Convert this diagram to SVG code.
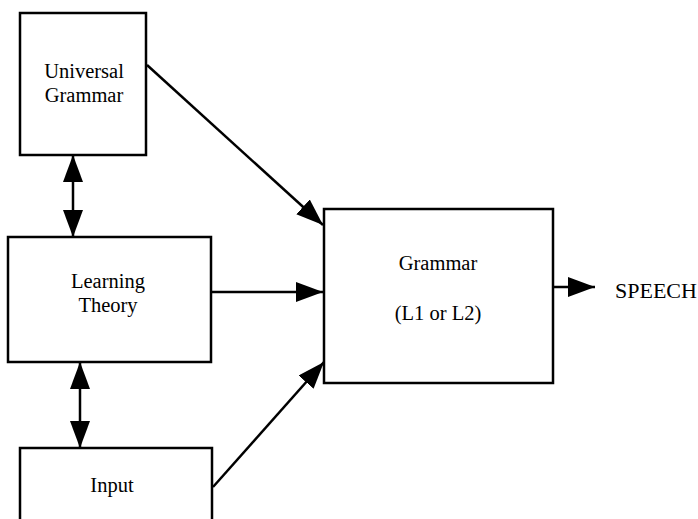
<svg xmlns="http://www.w3.org/2000/svg" width="698" height="519" viewBox="0 0 698 519">
<style>
.box{fill:#fff;stroke:#000;stroke-width:2.5}
.lbl{font-family:"Liberation Serif","Times New Roman",serif;font-size:20.5px;fill:#000;text-anchor:middle}
.con{stroke:#000;stroke-width:2.5;fill:none}
</style>
<defs>
<marker id="ah" markerUnits="userSpaceOnUse" markerWidth="28" markerHeight="22" refX="27" refY="10" orient="auto-start-reverse" viewBox="0 0 28 22">
<path d="M0,0 L27,10 L0,20 z" fill="#000"/>
</marker>
</defs>
<rect width="698" height="519" fill="#fff"/>
<g id="connectors">
<line class="con" x1="147" y1="65" x2="323" y2="225" marker-end="url(#ah)"/>
<line class="con" x1="211" y1="292" x2="323" y2="292" marker-end="url(#ah)"/>
<line class="con" x1="213" y1="487" x2="324" y2="362" marker-end="url(#ah)"/>
<line class="con" x1="553" y1="287" x2="595" y2="287" marker-end="url(#ah)"/>
<line class="con" x1="73" y1="155" x2="73" y2="237" marker-start="url(#ah)" marker-end="url(#ah)"/>
<line class="con" x1="80" y1="362" x2="80" y2="448" marker-start="url(#ah)" marker-end="url(#ah)"/>
</g>
<g id="universal-grammar">
<rect class="box" x="20" y="13" width="126" height="142"/>
<text class="lbl" x="84" y="78">Universal</text>
<text class="lbl" x="84" y="102">Grammar</text>
</g>
<g id="learning-theory">
<rect class="box" x="8" y="237" width="203" height="125"/>
<text class="lbl" x="108" y="288">Learning</text>
<text class="lbl" x="108" y="312">Theory</text>
</g>
<g id="input">
<rect class="box" x="20" y="448" width="192" height="80"/>
<text class="lbl" x="112" y="492">Input</text>
</g>
<g id="grammar">
<rect class="box" x="324" y="209" width="229" height="174"/>
<text class="lbl" x="438" y="270">Grammar</text>
<text class="lbl" x="438" y="320">(L1 or L2)</text>
</g>
<g id="speech">
<text class="lbl" x="615" y="298" style="text-anchor:start;font-size:22px">SPEECH</text>
</g>
</svg>
